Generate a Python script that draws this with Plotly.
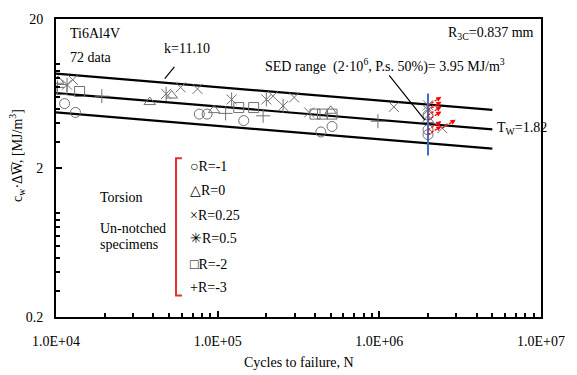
import math
import plotly.graph_objects as go

# ---- data (N = cycles to failure, W = c_w*dW in MJ/m^3) ----
r_m1_N = [1.13e4, 1.32e4, 7.7e4, 8.6e4, 1.45e5, 4.35e5, 5.1e5, 2.0e6, 2.0e6, 2.0e6]
r_m1_W = [5.41, 4.72, 4.60, 4.60, 4.16, 3.49, 3.80, 4.53, 3.61, 3.35]
r_0_N = [1.03e4, 3.8e4, 5.2e4, 9.5e4, 5.0e5, 2.0e6]
r_0_W = [7.70, 5.54, 6.13, 4.89, 4.84, 4.20]
r_025_N = [1.27e4, 5.9e4, 7.5e4, 2.2e5, 2.97e5, 3.68e5, 1.23e6, 2.0e6, 2.45e6]
r_025_W = [7.82, 6.95, 6.79, 6.07, 5.95, 4.72, 5.14, 5.27, 3.70]
r_05_N = [1.17e4, 4.8e4, 1.22e5, 2.0e5, 2.54e5, 2.0e6]
r_05_W = [7.25, 6.29, 5.77, 5.77, 5.22, 4.89]
r_m2_N = [1.09e4, 1.40e4, 1.35e5, 1.67e5, 4.0e5, 4.45e5, 5.1e5]
r_m2_W = [6.72, 6.52, 5.09, 5.09, 4.60, 4.60, 4.60]
r_m3_N = [1.02e4, 1.92e4, 1.12e5, 1.91e5, 9.8e5]
r_m3_W = [6.95, 6.07, 4.65, 4.48, 4.12]

runout_N = [2e6, 2e6, 2e6, 2e6, 2e6, 2e6, 2.45e6]
runout_W = [5.27, 4.89, 4.53, 4.20, 3.61, 3.35, 3.70]

# scatter band parameters (from chart text)
K = 11.10
SED_A = 3.95
N_A = 2e6
T_W = 1.82
band_N = [1e4, 5e6]
blue_N = [2e6, 2e6]
blue_W = [2.43, 6.32]

x_tickvals = [1e4, 1e5, 1e6, 1e7]
x_ticktext = ["1.0E+04", "1.0E+05", "1.0E+06", "1.0E+07"]
y_tickvals = [0.2, 2, 20]
y_ticktext = ["0.2", "2", "20"]

legend_labels = ["\u25cbR=-1", "\u25b3R=0", "\u00d7R=0.25", "\u2733R=0.5", "\u25a1R=-2", "+R=-3"]

FONT = "Liberation Serif"
GREY = "#707070"
ARROW_FN = 1.21   # run-out arrow direction (multiplicative in N)
ARROW_FW = 1.14   # run-out arrow direction (multiplicative in W)

def band(n, factor):
    return SED_A * (n / N_A) ** (-1.0 / K) * factor

fig = go.Figure()

# band lines
for f in [math.sqrt(T_W), 1.0, 1.0 / math.sqrt(T_W)]:
    fig.add_trace(go.Scatter(x=band_N, y=[band(n, f) for n in band_N], mode="lines",
                             line=dict(color="black", width=2.2), showlegend=False, hoverinfo="skip"))

mk = dict(size=10, color=GREY, line=dict(width=1, color=GREY))
series = [
    (r_m1_N, r_m1_W, "circle-open"),
    (r_0_N, r_0_W, "triangle-up-open"),
    (r_025_N, r_025_W, "x-thin-open"),
    (r_05_N, r_05_W, "x-thin-open"),
    (r_05_N, r_05_W, "line-ns-open"),
    (r_m2_N, r_m2_W, "square-open"),
    (r_m3_N, r_m3_W, "cross-thin-open"),
]
for xs, ys, sym in series:
    fig.add_trace(go.Scatter(x=xs, y=ys, mode="markers",
                             marker=dict(symbol=sym, **mk), showlegend=False))

# blue vertical line at 2e6
fig.add_trace(go.Scatter(x=blue_N, y=blue_W, mode="lines",
                         line=dict(color="#3f6fc4", width=2), showlegend=False, hoverinfo="skip"))

# dashed run-out arrow shafts
ro_x, ro_y = [], []
for n, w in zip(runout_N, runout_W):
    ro_x += [n, n * ARROW_FN, None]
    ro_y += [w, w * ARROW_FW, None]
fig.add_trace(go.Scatter(x=ro_x, y=ro_y, mode="lines", line=dict(color="#ff0000", width=1.3, dash="2.5px,1.5px"),
                         showlegend=False, hoverinfo="skip"))

annotations = []
# run-out arrow heads
for n, w in zip(runout_N, runout_W):
    annotations.append(dict(x=math.log10(n * ARROW_FN), y=math.log10(w * ARROW_FW),
                            ax=math.log10(n * ARROW_FN ** 0.75), ay=math.log10(w * ARROW_FW ** 0.75),
                            axref="x", ayref="y", xref="x", yref="y", text="", showarrow=True,
                            arrowhead=2, arrowsize=0.8, arrowwidth=1.3, arrowcolor="#ff0000"))

def px_x(p):
    return (p - 56) / 493.0

def px_y(p):
    return (317 - p) / 304.0

tf = dict(family=FONT, size=14, color="black")
texts = [
    ("Ti6Al4V", 68, 28, "left"),
    ("72 data", 68, 52, "left"),
    ("k=11.10", 189, 43, "center"),
    ("R<sub>3C</sub>=0.837 mm", 544, 28, "right"),
    ("SED range  (2\u00b710<sup>6</sup>, P.s. 50%)= 3.95 MJ/m<sup>3</sup>", 390, 60, "center"),
    ("T<sub>W</sub>=1.82", 502, 125, "left"),
    ("Torsion", 99, 195, "left"),
    ("Un-notched", 99, 227, "left"),
    ("specimens", 99, 243, "left"),
]
for t, x, y, anc in texts:
    annotations.append(dict(text=t, x=px_x(x), y=px_y(y), xref="paper", yref="paper",
                            xanchor=anc, yanchor="middle", showarrow=False, font=tf))

legend_y = [163, 188, 213, 237, 263, 287]
for t, y in zip(legend_labels, legend_y):
    annotations.append(dict(text=t, x=px_x(190), y=px_y(y), xref="paper", yref="paper",
                            xanchor="left", yanchor="middle", showarrow=False, font=tf))

# leader lines
annotations.append(dict(x=math.log10(N_A), y=math.log10(SED_A), xref="x", yref="y", text="",
                        showarrow=True, arrowhead=0, arrowwidth=1.2, arrowcolor="black",
                        ax=-40, ay=-50, standoff=5))
annotations.append(dict(x=math.log10(4.5e4), y=math.log10(band(4.5e4, math.sqrt(T_W))), xref="x", yref="y",
                        text="", showarrow=True, arrowhead=0, arrowwidth=1.2, arrowcolor="black",
                        ax=14, ay=-17, standoff=5))

# axis titles
annotations.append(dict(text="Cycles to failure, N", x=0.5, y=px_y(363), xref="paper", yref="paper",
                        showarrow=False, font=tf, xanchor="center", yanchor="middle"))
annotations.append(dict(text="c<sub>w</sub>\u00b7\u0394W\u0305, [MJ/m<sup>3</sup>]", x=px_x(17), y=px_y(152),
                        xref="paper", yref="paper", showarrow=False, font=tf, textangle=-90,
                        xanchor="center", yanchor="middle"))

# red bracket
shapes = [dict(type="path", xref="paper", yref="paper",
               path=f"M {px_x(184)},{px_y(155)} L {px_x(178)},{px_y(155)} L {px_x(178)},{px_y(295)} L {px_x(184)},{px_y(295)}",
               line=dict(color="#e03030", width=2))]

x_minor = [k * 10 ** d for d in range(4, 7) for k in range(2, 10)]
y_minor = [round(k * 10 ** d, 3) for d in (-1, 0) for k in range(3, 11)]

axis_common = dict(showline=True, linecolor="black", linewidth=2, mirror=True, showgrid=False,
                   zeroline=False, ticks="inside", ticklen=6, tickwidth=1.5, tickcolor="black",
                   tickfont=dict(family=FONT, size=14, color="black"))

fig.update_layout(
    width=577, height=375,
    margin=dict(l=56, r=28, t=13, b=58),
    paper_bgcolor="white", plot_bgcolor="white",
    showlegend=False,
    xaxis=dict(type="log", range=[4, 7], tickmode="array", tickvals=x_tickvals, ticktext=x_ticktext,
               ticklabelstandoff=10,
               minor=dict(tickmode="array", tickvals=x_minor, ticks="inside", ticklen=4,
                          tickwidth=1.5, tickcolor="black", showgrid=False),
               **axis_common),
    yaxis=dict(type="log", range=[math.log10(0.2), math.log10(20)], tickmode="array",
               tickvals=y_tickvals, ticktext=y_ticktext, ticklabelstandoff=8,
               minor=dict(tickmode="array", tickvals=y_minor, ticks="inside", ticklen=4,
                          tickwidth=1.5, tickcolor="black", showgrid=False),
               **axis_common),
    annotations=annotations,
    shapes=shapes,
)

fig.write_html("out.html", config={"displayModeBar": False},
               post_script="document.body.style.margin='0';document.body.style.padding='0';")
